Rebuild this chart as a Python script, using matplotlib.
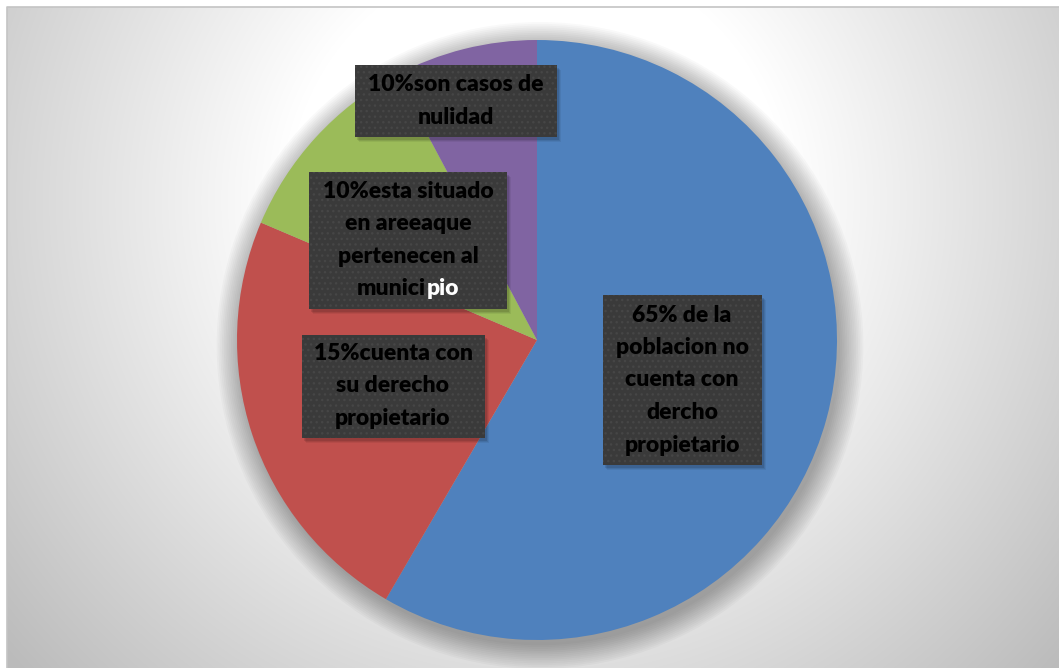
import numpy as np
import matplotlib
matplotlib.use('Agg')
import matplotlib.pyplot as plt
from matplotlib.patches import Rectangle, Circle

# ---- data ----
values = [58.4, 23.0, 10.8, 7.8]
colors = ['#4F81BD', '#C0504D', '#9BBB59', '#8064A2']
labels = ["65% de la\npoblacion no\ncuenta con\ndercho\npropietario",
          "15%cuenta con\nsu derecho\npropietario",
          "10%esta situado\nen areeaque\npertenecen al\nmunicipio",
          "10%son casos de\nnulidad"]
highlight = "pio"   # shown in white at end of the green label

# ---- layout ----
W, H = 1059, 668
fig = plt.figure(figsize=(W / 100, H / 100), dpi=100)
fig.patch.set_facecolor('white')

# background with radial gradient
bg = fig.add_axes([0, 0, 1, 1])
yy, xx = np.mgrid[0:H, 0:W]
d = np.hypot(xx - 537, yy - 200)
v = np.clip((d - 250) / 450, 0, 1)
g = 1 - v * (68 / 255)
img = np.dstack([g, g, g])
bg.imshow(img[7:, 7:], extent=(7, W, H, 7), zorder=0, interpolation='bilinear')
bg.plot([7, 7, W], [H, 7, 7], color='#c4c4c4', lw=1.2, zorder=1)
bg.set_aspect('auto')
bg.set_xlim(0, W)
bg.set_ylim(H, 0)
bg.axis('off')

# pie
cx, cy, R = 537, 340, 300
pax = fig.add_axes([(cx - R) / W, (H - cy - R) / H, 2 * R / W, 2 * R / H])
pax.patch.set_visible(False)
for i in range(14):
    pax.add_patch(Circle((0.010, -0.018), 1.0 + 0.006 * i, color='black',
                         alpha=0.022, lw=0, clip_on=False, zorder=0))
wedges, _ = pax.pie(values, colors=colors, startangle=90, counterclock=False,
                    radius=1, wedgeprops=dict(linewidth=0))
for w in wedges:
    w.set_zorder(2)
pax.set_xlim(-1, 1)
pax.set_ylim(-1, 1)
pax.set_aspect('equal')
pax.axis('off')

# labels overlay
ov = fig.add_axes([0, 0, 1, 1])
ov.set_xlim(0, W)
ov.set_ylim(H, 0)
ov.axis('off')
ov.patch.set_visible(False)

boxes = [(682, 380, 159, 170), (393, 386, 183, 103),
         (408, 240, 198, 137), (456, 101, 202, 72)]
lstep = 32.5
font = dict(family='Lato', weight='heavy', size=16.5)
renderer = fig.canvas.get_renderer()

for (bx, by, bw, bh), lab in zip(boxes, labels):
    for k, a in enumerate([0.10, 0.08, 0.06]):
        ov.add_patch(Rectangle((bx - bw / 2 + 2 + k, by - bh / 2 + 3 + k), bw, bh,
                               facecolor='black', alpha=a, lw=0, zorder=3))
    ov.add_patch(Rectangle((bx - bw / 2, by - bh / 2), bw, bh, facecolor='#3a3a3a',
                           edgecolor='#464646', hatch='...', lw=0, zorder=4))
    lines = lab.split('\n')
    n = len(lines)
    for i, line in enumerate(lines):
        y = by + (i - (n - 1) / 2) * lstep
        if lab is labels[2] and line.endswith(highlight) and line != highlight:
            first = line[:-len(highlight)]
            t1 = ov.text(0, y, first, color='black', ha='left', va='center', zorder=5, **font)
            t2 = ov.text(0, y, highlight, color='white', ha='left', va='center', zorder=5, **font)
            w1 = t1.get_window_extent(renderer).width
            w2 = t2.get_window_extent(renderer).width
            x0 = bx - (w1 + w2) / 2
            t1.set_x(x0)
            t2.set_x(x0 + w1)
        else:
            ov.text(bx, y, line, color='black', ha='center', va='center', zorder=5, **font)

fig.savefig('out.png', dpi=100)
